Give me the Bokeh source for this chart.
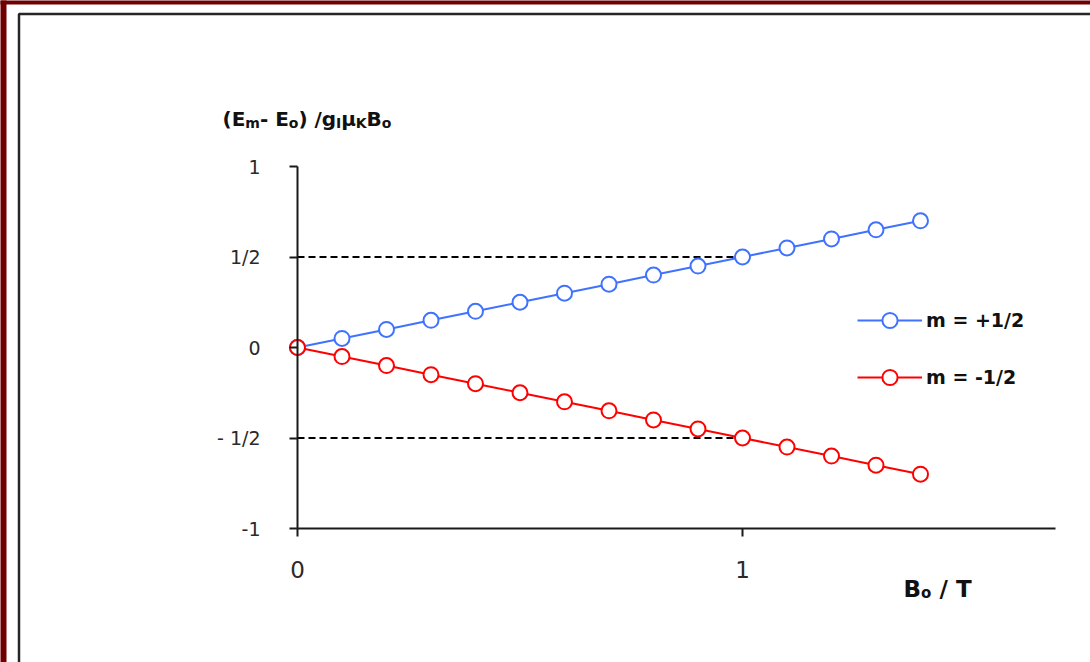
from bokeh.plotting import figure
from bokeh.models import (Range1d, FixedTicker, Legend, LegendItem, Label,
                          BoxAnnotation)
from bokeh.embed import file_html
from bokeh.resources import INLINE

# ---- data ----
B_field = [0.0, 0.1, 0.2, 0.3, 0.4, 0.5, 0.6, 0.7, 0.8, 0.9, 1.0, 1.1, 1.2, 1.3, 1.4]
E_plus = [0.0, 0.05, 0.10, 0.15, 0.20, 0.25, 0.30, 0.35, 0.40, 0.45, 0.50, 0.55, 0.60, 0.65, 0.70]
E_minus = [0.0, -0.05, -0.10, -0.15, -0.20, -0.25, -0.30, -0.35, -0.40, -0.45, -0.50, -0.55, -0.60, -0.65, -0.70]
guide_x = [0.0, 1.0]
guide_levels = [0.5, -0.5]
y_ticks = [-1, -0.5, 0, 0.5, 1]
y_tick_labels = ["-1", "- 1/2", "0", "1/2", "1"]
x_ticks = [0, 1]
x_tick_labels = ["0", "1"]
series_labels = ["m = +1/2", "m = -1/2"]
x_axis_end = 1.7034

BLUE = "#3f72ff"
RED = "#ff0000"
FONT = "DejaVu Sans"

W, H = 1090, 662
# pixel layout: x=0 at px 297, x=1 at px 742; y=1 at px 166, y=-1 at px 528
X0, XS = 297.0, 445.0
Y0, YS = 347.0, 181.0


def dx(px):
    return (px - X0) / XS


def dy(py):
    return (Y0 - py) / YS


p = figure(width=W, height=H, output_backend="svg", toolbar_location=None,
           x_range=Range1d(dx(0), dx(W)), y_range=Range1d(dy(H), dy(0)),
           min_border=0)
p.outline_line_color = None
p.grid.visible = False
p.background_fill_color = "white"
p.border_fill_color = "white"

# axes, drawn at data positions through the frame's scales
for ax in (p.xaxis[0], p.yaxis[0]):
    ax.axis_line_color = "#1a1a1a"
    ax.axis_line_width = 2
    ax.major_tick_line_color = "#1a1a1a"
    ax.major_tick_line_width = 2
    ax.major_tick_in = 0
    ax.major_tick_out = 8
    ax.minor_tick_line_color = None
    ax.major_label_text_color = "#2a2a2a"
    ax.major_label_text_font = FONT

p.yaxis.fixed_location = 0
p.yaxis.bounds = (-1, 1)
p.yaxis.ticker = FixedTicker(ticks=y_ticks)
p.yaxis.major_label_overrides = {t: l for t, l in zip(y_ticks, y_tick_labels)}
p.yaxis.major_label_text_font_size = "19px"
p.yaxis.major_label_standoff = 29

p.xaxis.fixed_location = -1
p.xaxis.bounds = (0, x_axis_end)
p.xaxis.ticker = FixedTicker(ticks=x_ticks)
p.xaxis.major_label_overrides = {t: l for t, l in zip(x_ticks, x_tick_labels)}
p.xaxis.major_label_text_font_size = "23px"
p.xaxis.major_label_standoff = 24

# frame decorations (red page border and dark box)
p.add_layout(BoxAnnotation(left=dx(-20), right=dx(6), bottom=dy(H + 20), top=dy(-20),
                           fill_color="#700000", fill_alpha=1, line_color=None))
p.add_layout(BoxAnnotation(left=dx(-20), right=dx(W + 20), bottom=dy(4), top=dy(-20),
                           fill_color="#700000", fill_alpha=1, line_color=None))
p.add_layout(BoxAnnotation(left=dx(18.5), right=dx(W + 40), bottom=dy(H + 40), top=dy(13.5),
                           fill_alpha=0, line_color="#262626", line_alpha=1, line_width=2.5))

# dashed guides
for lvl in guide_levels:
    p.line(guide_x, [lvl, lvl], line_color="black", line_width=2, line_dash="7 4")

# series
lb = p.line(B_field, E_plus, line_color=BLUE, line_width=2)
sb = p.scatter(B_field, E_plus, size=15, line_color=BLUE, line_width=2, fill_color="white")
lr = p.line(B_field, E_minus, line_color=RED, line_width=2)
sr = p.scatter(B_field, E_minus, size=15, line_color=RED, line_width=2, fill_color="white")

legend = Legend(items=[LegendItem(label=series_labels[0], renderers=[lb, sb]),
                       LegendItem(label=series_labels[1], renderers=[lr, sr])],
                location=(857, H - 396), orientation="vertical",
                glyph_width=65, glyph_height=38, label_height=38, spacing=19,
                label_standoff=4, padding=0, margin=0,
                border_line_color=None, background_fill_alpha=0,
                label_text_font=FONT, label_text_font_style="bold",
                label_text_font_size="19px", label_text_color="#111111")
p.add_layout(legend, "center")


def piece(text, page_x, page_base, size):
    p.add_layout(Label(x=dx(page_x), y=dy(page_base), text=text, text_font=FONT,
                       text_font_size=f"{size}px", text_font_style="bold",
                       text_color="#111111", text_align="left",
                       text_baseline="alphabetic"))


# y-quantity title: (E_m - E_o) / g_I mu_K B_o
piece("(E", 222, 118, 20)
piece("m", 244.8, 122, 14)
piece("- E", 259.4, 118, 20)
piece("o", 288.3, 122, 14)
piece(") /g", 297.9, 118, 20)
piece("I", 335.6, 122, 14)
piece("μ", 340.8, 118, 20)
piece("K", 355.2, 122, 14)
piece("B", 366.1, 118, 20)
piece("o", 381.3, 122, 14)

# x-axis quantity: B_o / T
piece("B", 903, 588, 23)
piece("o", 920.5, 592, 15)
piece("/ T", 939, 588, 23)

open("out.html", "w").write(file_html(p, INLINE))
